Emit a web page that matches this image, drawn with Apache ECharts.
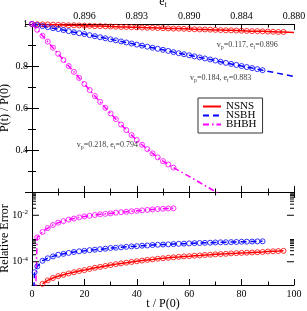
<!DOCTYPE html>
<html><head><meta charset="utf-8">
<script src="https://cdn.jsdelivr.net/npm/echarts@6/dist/echarts.min.js"></script>
<style>html,body{margin:0;padding:0;background:#fff}#c{width:307px;height:311px}</style>
</head><body><div id="c"></div>
<script>
// ---------- data ----------
const names = ['NSNS', 'NSBH', 'BHBH'];

// top panel: P(t)/P(0) markers
const tRedTop = [0,2,4,6,8,10,12,14,16,18,20,22,24,26,28,30,32,34,36,38,40,42,44,46,48,50,52,54,56,58,60,62,64,66,68,70,72,74,76,78,80,82,84,86,88,90,92,94,96];
const pRedTop = [1.000,0.999,0.998,0.998,0.997,0.996,0.995,0.994,0.994,0.993,0.992,0.991,0.990,0.990,0.989,0.988,0.987,0.986,0.986,0.985,0.984,0.983,0.982,0.982,0.981,0.980,0.979,0.978,0.978,0.977,0.976,0.975,0.974,0.974,0.973,0.972,0.971,0.970,0.970,0.969,0.968,0.967,0.966,0.966,0.965,0.964,0.963,0.962,0.962];
const tBlueTop = [0,2,4,6,8,10,12,14,16,18,20,22,24,26,28,30,32,34,36,38,40,42,44,46,48,50,52,54,56,58,60,62,64,66,68,70,72,74,76,78,80,82,84,86,88];
const pBlueTop = [1.000,0.995,0.990,0.985,0.980,0.976,0.971,0.966,0.961,0.956,0.952,0.947,0.942,0.937,0.932,0.927,0.922,0.917,0.912,0.907,0.902,0.897,0.892,0.887,0.882,0.877,0.872,0.866,0.861,0.856,0.851,0.846,0.841,0.836,0.831,0.826,0.820,0.815,0.810,0.805,0.800,0.795,0.790,0.785,0.780];
const tMagTop = [0,2,4,6,8,10,12,14,16,18,20,22,24,26,28,30,32,34,36,38,40,42,44,46,48,50,52,54];
const pMagTop = [1.000,0.972,0.944,0.916,0.887,0.858,0.829,0.800,0.772,0.743,0.714,0.686,0.657,0.629,0.601,0.574,0.547,0.521,0.495,0.471,0.447,0.425,0.404,0.384,0.365,0.347,0.331,0.316];

// line continuation beyond the markers
const tRedExt = [100];   const pRedExt = [0.960];
const tBlueExt = [100];  const pBlueExt = [0.750];
const tMagExt = [56,60,65,70,72]; const pMagExt = [0.302,0.274,0.238,0.202,0.188];

// bottom panel: relative error
const tRedErr = [4,6,8,10,12,14,16,18,20,22,24,26,28,30,32,34,36,38,40,42,44,46,48,50,52,54,56,58,60,62,64,66,68,70,72,74,76,78,80,82,84,86,88,90,92,94,96];
const eRedErr = [1.12e-5,1.58e-5,2.0e-5,2.4e-5,2.75e-5,3.16e-5,3.55e-5,3.98e-5,4.37e-5,4.9e-5,5.5e-5,6.0e-5,6.6e-5,7.2e-5,7.9e-5,8.5e-5,9.1e-5,9.8e-5,1.05e-4,1.12e-4,1.2e-4,1.26e-4,1.35e-4,1.41e-4,1.48e-4,1.55e-4,1.62e-4,1.7e-4,1.74e-4,1.82e-4,1.86e-4,1.95e-4,2.0e-4,2.09e-4,2.14e-4,2.19e-4,2.29e-4,2.34e-4,2.4e-4,2.45e-4,2.51e-4,2.57e-4,2.63e-4,2.75e-4,2.82e-4,2.88e-4,2.95e-4];
const tBlueErr = [1,2,4,6,8,10,12,14,16,18,20,22,24,26,28,30,32,34,36,38,40,42,44,46,48,50,52,54,56,58,60,62,64,66,68,70,72,74,76,78,80,82,84,86,88];
const eBlueErr = [3.55e-5,6.3e-5,1.1e-4,1.41e-4,1.7e-4,2.0e-4,2.19e-4,2.4e-4,2.63e-4,2.82e-4,2.95e-4,3.16e-4,3.3e-4,3.47e-4,3.63e-4,3.9e-4,4.0e-4,4.17e-4,4.37e-4,4.57e-4,4.68e-4,4.9e-4,5.0e-4,5.25e-4,5.37e-4,5.5e-4,5.6e-4,5.75e-4,5.9e-4,6.0e-4,6.17e-4,6.3e-4,6.4e-4,6.5e-4,6.6e-4,6.76e-4,6.85e-4,6.9e-4,7.0e-4,7.1e-4,7.25e-4,7.3e-4,7.4e-4,7.5e-4,7.6e-4];
const tMagErr = [2,4,6,8,10,12,14,16,18,20,22,24,26,28,30,32,34,36,38,40,42,44,46,48,50,52,54];
const eMagErr = [1.12e-3,1.9e-3,2.82e-3,3.8e-3,4.8e-3,5.6e-3,6.5e-3,7.2e-3,8.1e-3,8.9e-3,9.5e-3,1.02e-2,1.1e-2,1.15e-2,1.2e-2,1.29e-2,1.35e-2,1.41e-2,1.48e-2,1.55e-2,1.62e-2,1.7e-2,1.78e-2,1.86e-2,1.9e-2,1.95e-2,2.0e-2];
// start of the error lines (below the plotted range)
const tBlueErrStart = [0.3]; const eBlueErrStart = [1e-6];
const tMagErrStart = [1.2];  const eMagErrStart = [1e-6];

// top axis (e_t) tick labels
const topTickT = [20, 40, 60, 80, 100];
const topTickLabels = ['0.896', '0.893', '0.890', '0.884', '0.880'];

// annotations
const annT = [70.5, 60.3, 17.1];
const annV = [0.9005, 0.744, 0.4265];
const annVp = ['0.117', '0.184', '0.218'];
const annEt = ['0.896', '0.883', '0.794'];

// log-axis ticks of the error panel
const logMajor = [1e-2, 1e-4];
const logMinor = [2e-2,3e-2,4e-2,5e-2,6e-2,7e-2,8e-2,9e-2,2e-4,3e-4,4e-4,5e-4,6e-4,7e-4,8e-4,9e-4];

// ---------- chart ----------
const zip = (a, b) => a.map((x, i) => [x, b[i]]);
const colors = ['#ff0000', '#0000ff', '#ff00ff'];
const dashes = ['solid', [6, 4], [6, 3, 1.5, 3]];
const FONT = 'Liberation Serif';
const AX = '#000';

const topPts = [zip(tRedTop, pRedTop), zip(tBlueTop, pBlueTop), zip(tMagTop, pMagTop)];
const topLines = [
  zip(tRedTop.concat(tRedExt), pRedTop.concat(pRedExt)),
  zip(tBlueTop.concat(tBlueExt), pBlueTop.concat(pBlueExt)),
  zip(tMagTop.concat(tMagExt), pMagTop.concat(pMagExt))
];
const errPts = [zip(tRedErr, eRedErr), zip(tBlueErr, eBlueErr), zip(tMagErr, eMagErr)];
const errLines = [
  zip(tRedErr, eRedErr),
  zip(tBlueErrStart.concat(tBlueErr), eBlueErrStart.concat(eBlueErr)),
  zip(tMagErrStart.concat(tMagErr), eMagErrStart.concat(eMagErr))
];

const series = [];
for (let i = 0; i < 3; i++) {
  series.push({
    name: names[i], type: 'line', xAxisIndex: 0, yAxisIndex: 0,
    data: topLines[i], symbol: 'none', z: 3,
    lineStyle: { color: colors[i], width: 1.5, type: dashes[i] },
    itemStyle: { color: colors[i] }
  });
  series.push({
    name: names[i] + ' pts', type: 'scatter', xAxisIndex: 0, yAxisIndex: 0,
    data: topPts[i], symbol: 'circle', symbolSize: 5, z: 4,
    itemStyle: { color: 'rgba(0,0,0,0)', borderColor: colors[i], borderWidth: 1 }
  });
  series.push({
    name: names[i] + ' err', type: 'line', xAxisIndex: 2, yAxisIndex: 2,
    data: errLines[i], symbol: 'none', z: 3,
    lineStyle: { color: colors[i], width: 1.5, type: dashes[i] }
  });
  series.push({
    name: names[i] + ' err pts', type: 'scatter', xAxisIndex: 2, yAxisIndex: 2,
    data: errPts[i], symbol: 'circle', symbolSize: 5, z: 4,
    itemStyle: { color: 'rgba(0,0,0,0)', borderColor: colors[i], borderWidth: 1 }
  });
}

// annotations
series.push({
  type: 'scatter', xAxisIndex: 0, yAxisIndex: 0, symbolSize: 0, silent: true, z: 6,
  data: zip(annT, annV),
  label: {
    show: true, position: [0, 0], align: 'left', verticalAlign: 'middle',
    formatter: p => 'v{s|p}=' + annVp[p.dataIndex] + ', e{s|t}=' + annEt[p.dataIndex],
    fontFamily: FONT, fontSize: 8, color: '#000',
    rich: { s: { fontFamily: FONT, fontSize: 6, padding: [5, 0, 0, 0], color: '#000' } }
  }
});

// log ticks (left and right edges of the error panel)
const tickData = logMajor.map(v => [50, v, 7]).concat(logMinor.map(v => [50, v, 4]));
series.push({
  type: 'custom', xAxisIndex: 2, yAxisIndex: 2, silent: true, z: 5,
  data: tickData,
  renderItem: (params, api) => {
    const v = api.value(1), len = api.value(2);
    const pl = api.coord([0, v]), pr = api.coord([100, v]);
    return { type: 'group', children: [
      { type: 'line', shape: { x1: pl[0], y1: pl[1], x2: pl[0] + len, y2: pl[1] }, style: { stroke: AX, lineWidth: 1 } },
      { type: 'line', shape: { x1: pr[0], y1: pr[1], x2: pr[0] - len, y2: pr[1] }, style: { stroke: AX, lineWidth: 1 } }
    ] };
  }
});

const tickCommon = { show: true, inside: true, length: 6, lineStyle: { color: AX, width: 1 } };
const minorCommon = { show: true, splitNumber: 2, length: 3.5, lineStyle: { color: AX, width: 1 } };
const lineCommon = { show: true, lineStyle: { color: AX, width: 1 } };
const labelFont = { fontFamily: FONT, fontSize: 10, color: '#000' };

const xBase = (grid, pos) => ({
  type: 'value', gridIndex: grid, position: pos, min: 0, max: 100, interval: 20,
  axisLine: lineCommon, axisTick: tickCommon, minorTick: minorCommon,
  splitLine: { show: false }, axisLabel: { show: false }
});

const option = {
  animation: false,
  backgroundColor: '#fff',
  textStyle: { fontFamily: FONT },
  grid: [
    { left: 32, right: 13, top: 24, height: 168, containLabel: false, outerBoundsMode: 'none' },
    { left: 32, right: 13, top: 192, height: 93, containLabel: false, outerBoundsMode: 'none' }
  ],
  legend: {
    data: names, orient: 'vertical', left: 198, top: 98,
    backgroundColor: '#fff', borderColor: '#333', borderWidth: 1,
    padding: [3, 6, 3, 4], itemGap: -2, itemWidth: 18, itemHeight: 10,
    itemStyle: { opacity: 0 },
    textStyle: { fontFamily: FONT, fontSize: 11, color: '#000' }
  },
  xAxis: [
    xBase(0, 'bottom'),
    Object.assign(xBase(0, 'top'), {
      axisLabel: {
        show: true, margin: 3, ...labelFont,
        formatter: v => { const k = topTickT.indexOf(Math.round(v)); return k >= 0 ? topTickLabels[k] : ''; }
      },
      name: 'e{s|t}', nameLocation: 'middle', nameGap: 15, nameMoveOverlap: false,
      nameTextStyle: { fontFamily: FONT, fontSize: 12, color: '#000',
        rich: { s: { fontFamily: FONT, fontSize: 8, padding: [6, 0, 0, 0], color: '#000' } } }
    }),
    Object.assign(xBase(1, 'bottom'), {
      axisLabel: { show: true, margin: 4, ...labelFont },
      name: 't / P(0)', nameLocation: 'middle', nameGap: 13, nameMoveOverlap: false,
      nameTextStyle: { fontFamily: FONT, fontSize: 12, color: '#000' }
    }),
    xBase(1, 'top')
  ],
  yAxis: [
    {
      type: 'value', gridIndex: 0, position: 'left', min: 0.2, max: 1, interval: 0.2,
      axisLine: lineCommon, axisTick: Object.assign({}, tickCommon, { length: 7 }),
      minorTick: Object.assign({}, minorCommon, { length: 4 }), splitLine: { show: false },
      axisLabel: { margin: 4, ...labelFont,
        formatter: v => v > 0.99 ? '1' : (v < 0.3 ? '' : v.toFixed(1)) },
      name: 'P(t) / P(0)', nameLocation: 'middle', nameGap: 21, nameMoveOverlap: false,
      nameTextStyle: { fontFamily: FONT, fontSize: 12, color: '#000' }
    },
    {
      type: 'value', gridIndex: 0, position: 'right', min: 0.2, max: 1, interval: 0.2,
      axisLine: lineCommon, axisTick: Object.assign({}, tickCommon, { length: 7 }),
      minorTick: Object.assign({}, minorCommon, { length: 4 }), splitLine: { show: false },
      axisLabel: { show: false }
    },
    {
      type: 'log', logBase: 10, gridIndex: 1, position: 'left', min: 1e-5, max: 1e-1,
      axisLine: lineCommon, axisTick: { show: false }, minorTick: { show: false }, splitLine: { show: false },
      axisLabel: {
        margin: 4, ...labelFont,
        formatter: v => { const e = Math.round(Math.log10(v)); return (e === -2 || e === -4) ? '{b|10}{p|' + e + '}' : ''; },
        rich: {
          b: { fontFamily: FONT, fontSize: 10, color: '#000' },
          p: { fontFamily: FONT, fontSize: 7, color: '#000', padding: [0, 0, 6, 0] }
        }
      },
      name: 'Relative Error', nameLocation: 'middle', nameGap: 21, nameMoveOverlap: false,
      nameTextStyle: { fontFamily: FONT, fontSize: 12, color: '#000' }
    },
    {
      type: 'log', logBase: 10, gridIndex: 1, position: 'right', min: 1e-5, max: 1e-1,
      axisLine: lineCommon, axisTick: { show: false }, minorTick: { show: false }, splitLine: { show: false },
      axisLabel: { show: false }
    }
  ],
  series: series
};

const chart = echarts.init(document.getElementById('c'), null, { renderer: 'canvas' });
chart.setOption(option);
</script>
</body></html>
